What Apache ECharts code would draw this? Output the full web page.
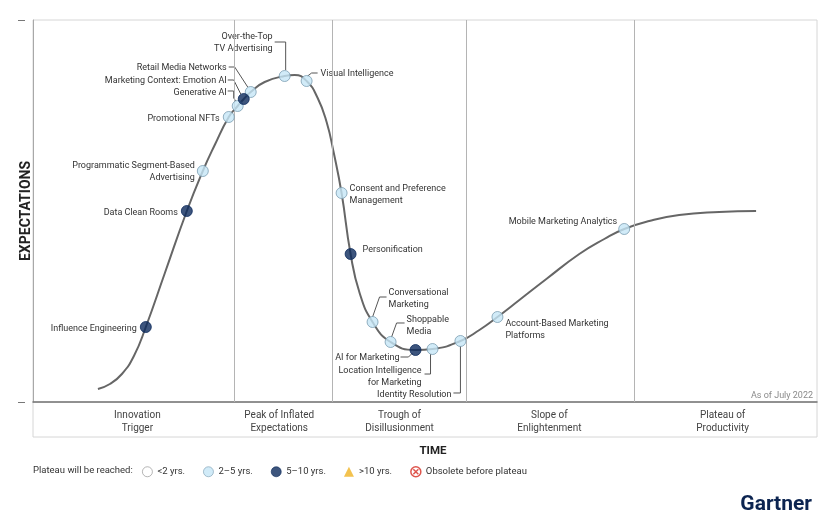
<!DOCTYPE html>
<html><head><meta charset="utf-8">
<script src="https://cdn.jsdelivr.net/npm/echarts@6/dist/echarts.min.js"></script>
<style>html,body{margin:0;padding:0;background:#fff}#c{width:831px;height:521px}</style>
</head><body><div id="c"></div>
<script>
// Hype-cycle curve (time 0-100, expectations 0-100)
const curveX = [8.28, 9.81, 11.34, 12.87, 14.39, 16.82, 19.62, 21.66, 23.18, 24.97, 26.11, 26.88, 27.77, 29.55, 32.10, 33.38, 34.90, 36.31, 37.45, 38.34, 39.36, 40.51, 41.66, 43.31, 45.61, 48.79, 50.96, 54.52, 56.94, 59.24, 62.04, 65.48, 69.68, 72.87, 75.41, 78.60, 82.42, 87.52, 92.23];
const curveY = [3.40, 4.71, 7.33, 12.04, 19.63, 33.77, 50.0, 60.47, 67.28, 74.61, 77.49, 79.32, 81.15, 83.77, 85.34, 85.60, 84.03, 79.58, 73.30, 65.45, 54.71, 38.74, 28.53, 20.94, 15.71, 13.61, 13.87, 15.97, 18.85, 22.25, 26.70, 32.20, 38.74, 42.67, 45.29, 47.38, 48.95, 49.74, 50.0];

// Technologies on the curve
const techNames = ['Influence Engineering', 'Data Clean Rooms', 'Programmatic Segment-Based\nAdvertising', 'Promotional NFTs', 'Generative AI', 'Marketing Context: Emotion AI', 'Retail Media Networks', 'Over-the-Top\nTV Advertising', 'Visual Intelligence', 'Consent and Preference\nManagement', 'Personification', 'Conversational\nMarketing', 'Shoppable\nMedia', 'AI for Marketing', 'Location Intelligence\nfor Marketing', 'Identity Resolution', 'Account-Based Marketing\nPlatforms', 'Mobile Marketing Analytics'];
const techX = [14.39, 19.62, 21.66, 24.97, 26.11, 26.88, 27.77, 32.10, 34.90, 39.36, 40.51, 43.31, 45.61, 48.79, 50.96, 54.52, 59.24, 75.41];
const techY = [19.63, 50.0, 60.47, 74.61, 77.49, 79.32, 81.15, 85.34, 84.03, 54.71, 38.74, 20.94, 15.71, 13.61, 13.87, 15.97, 22.25, 45.29];
// 0: <2 yrs, 1: 2-5 yrs, 2: 5-10 yrs, 3: >10 yrs, 4: obsolete
const techClass = [2, 2, 1, 1, 1, 2, 1, 1, 1, 1, 2, 1, 1, 2, 1, 1, 1, 1];
const classNames = ['<2 yrs.', '2–5 yrs.', '5–10 yrs.', '>10 yrs.', 'Obsolete before plateau'];

// Phases
const phaseNames = ['Innovation\nTrigger', 'Peak of Inflated\nExpectations', 'Trough of\nDisillusionment', 'Slope of\nEnlightenment', 'Plateau of\nProductivity'];
const phaseBounds = [0, 25.61, 38.22, 55.29, 76.69, 100];

// ---- layout / style (pixels relative to each point) ----
const labelLayout = [
  {dx: -9, dy: 0, align: 'right'},
  {dx: -9, dy: 0, align: 'right'},
  {dx: -8, dy: -1, align: 'right'},
  {dx: -9, dy: 0, align: 'right'},
  {dx: -11, dy: -15, align: 'right', leader: [[-10, -15], [-4, -15], [-4, -8], [-2, -5]]},
  {dx: -17, dy: -20, align: 'right', leader: [[-16, -19], [-10, -19], [-3, -5]]},
  {dx: -24, dy: -26, align: 'right', leader: [[-22, -25], [-16, -25], [-3, -5]]},
  {dx: -12, dy: -35, align: 'right', leader: [[-10, -34], [1, -34], [1, -6]]},
  {dx: 14, dy: -9, align: 'left', leader: [[1, -5], [5, -8], [11, -8]]},
  {dx: 8, dy: 0, align: 'left'},
  {dx: 12, dy: -6, align: 'left'},
  {dx: 16, dy: -25, align: 'left', leader: [[0, -5], [7, -25], [14, -25]]},
  {dx: 16, dy: -18, align: 'left', leader: [[1, -5], [6, -19], [14, -19]]},
  {dx: -16, dy: 6, align: 'right', leader: [[-15, 7], [-7, 7], [-3, 3]]},
  {dx: -11, dy: 26, align: 'right', leader: [[-2, 5], [-2, 25], [-8, 25]]},
  {dx: -9, dy: 52, align: 'right', leader: [[0, 5], [0, 52], [-7, 52]]},
  {dx: 8, dy: 11, align: 'left'},
  {dx: -7, dy: -9, align: 'right'}
];
const textShiftY = 1.5;
const phaseLabelShift = [4, -4, 0, -1, -3];
const obsoletePath = 'path://M10,0A10,10,0,1,1,10,20A10,10,0,1,1,10,0ZM5,5L15,15M15,5L5,15';
const classStyles = [
  {symbol: 'circle', itemStyle: {color: '#ffffff', borderColor: '#8c8c8c', borderWidth: 1}},
  {symbol: 'circle', itemStyle: {color: '#c6e6f6', borderColor: '#7c9db2', borderWidth: 1}},
  {symbol: 'circle', itemStyle: {color: '#0c2b5c', borderColor: '#0c2b5c', borderWidth: 1}},
  {symbol: 'triangle', itemStyle: {color: '#f0b323', borderColor: '#f0b323', borderWidth: 0}},
  {symbol: obsoletePath, itemStyle: {color: '#ffffff', borderColor: '#d62a20', borderWidth: 1.5}}
];

const chart = echarts.init(document.getElementById('c'), null, {renderer: 'canvas'});

const scatterSeries = classNames.map((cn, k) => ({
  type: 'scatter',
  name: cn,
  xAxisIndex: 0, yAxisIndex: 0,
  symbol: classStyles[k].symbol,
  symbolSize: 11,
  itemStyle: classStyles[k].itemStyle,
  z: 5,
  silent: true,
  data: techNames.map((n, i) => techClass[i] === k ? [techX[i], techY[i]] : null).filter(d => d)
}));

const option = {
  animation: false,
  textStyle: {fontFamily: 'Roboto'},
  title: [
    {text: 'Plateau will be reached:', left: 33, top: 466, padding: 0,
     textStyle: {fontSize: 9.5, fontWeight: 'normal', color: '#333'}},
    {text: 'As of July 2022', right: 18, top: 391.5, padding: 0,
     textStyle: {fontSize: 9, fontWeight: 'normal', color: '#8a8a8a'}},
    {text: 'Gartner', right: 19, top: 494, padding: 0,
     textStyle: {fontSize: 21, fontWeight: 'bold', color: '#0c2450'}}
  ],
  legend: {
    left: 142, top: 466, padding: 0,
    itemWidth: 10, itemHeight: 10, itemGap: 18,
    selectedMode: false,
    textStyle: {fontSize: 9.5, color: '#333'},
    data: classNames.map((n, k) => ({
      name: n,
      icon: k === 4 ? obsoletePath : (k === 3 ? 'triangle' : 'circle'),
      itemStyle: {borderWidth: k === 4 ? 1.5 : (k === 3 ? 0 : 0.8)}
    }))
  },
  grid: [
    {left: 33, right: 14, top: 20, bottom: 119, show: true, borderColor: '#d6d6d6', borderWidth: 1},
    {left: 33, right: 14, top: 402, height: 35, show: true, borderColor: '#d6d6d6', borderWidth: 1}
  ],
  xAxis: [
    {gridIndex: 0, type: 'value', min: 0, max: 100,
     name: 'TIME', nameLocation: 'middle', nameGap: 43,
     nameTextStyle: {fontSize: 11.5, fontWeight: 'bold', color: '#222', padding: [0, 0, 0, 16]},
     axisLine: {show: true, lineStyle: {color: '#777', width: 1.5}},
     axisTick: {show: false}, axisLabel: {show: false}, splitLine: {show: false}},
    {gridIndex: 1, type: 'value', min: 0, max: 100, show: false}
  ],
  yAxis: [
    {gridIndex: 0, type: 'value', min: 0, max: 100,
     name: 'EXPECTATIONS', nameLocation: 'middle', nameGap: 0, nameRotate: 90,
     nameTextStyle: {fontSize: 14, fontWeight: 'bold', color: '#222', padding: [0, 0, 0, 0]},
     axisLine: {show: true, lineStyle: {color: '#a8a8a8', width: 1}},
     axisTick: {show: false}, axisLabel: {show: false}, splitLine: {show: false}},
    {gridIndex: 1, type: 'value', min: 0, max: 1, show: false},
    {gridIndex: 0, type: 'value', min: 0, max: 100, interval: 100, offset: 8, position: 'left',
     axisLine: {show: false}, axisTick: {show: true, length: 7, lineStyle: {color: '#777'}},
     axisLabel: {show: false}, splitLine: {show: false}}
  ],
  series: [
    {
      type: 'line', name: 'curve', xAxisIndex: 0, yAxisIndex: 0,
      data: curveX.map((x, i) => [x, curveY[i]]),
      smooth: 0.5, showSymbol: false, silent: true,
      lineStyle: {color: '#666', width: 2}, z: 3,
      markLine: {
        silent: true, symbol: 'none', label: {show: false},
        lineStyle: {color: '#b4b4b4', width: 1, type: 'solid'},
        data: phaseBounds.slice(1, -1).map(v => ({xAxis: v}))
      }
    },
    {
      type: 'custom', name: 'labels', xAxisIndex: 0, yAxisIndex: 0, silent: true, z: 4,
      data: techNames.map((n, i) => [techX[i], techY[i], i]),
      renderItem: function (params, api) {
        const p = api.coord([api.value(0), api.value(1)]);
        const i = api.value(2);
        const L = labelLayout[i];
        const children = [];
        if (L.leader) {
          children.push({type: 'polyline', shape: {points: L.leader.map(o => [p[0] + o[0], p[1] + o[1]])},
            style: {stroke: '#555', lineWidth: 1, fill: null}});
        }
        children.push({type: 'text', x: p[0] + L.dx, y: p[1] + L.dy + textShiftY,
          style: {text: techNames[i], align: L.align, verticalAlign: 'middle',
            font: '9px Roboto', fill: '#333', lineHeight: 12}});
        return {type: 'group', children: children};
      }
    },
    {
      type: 'custom', name: 'phases', xAxisIndex: 1, yAxisIndex: 1, silent: true,
      data: phaseNames.map((n, i) => [phaseBounds[i], phaseBounds[i + 1], i]),
      renderItem: function (params, api) {
        const i = api.value(2);
        const a = api.coord([api.value(0), 0.5]);
        const b = api.coord([api.value(1), 0.5]);
        return {type: 'text', x: (a[0] + b[0]) / 2 + phaseLabelShift[i], y: a[1] + 2,
          style: {text: phaseNames[i], align: 'center', verticalAlign: 'middle',
            font: '10px Roboto', fill: '#444', lineHeight: 13}};
      }
    }
  ].concat(scatterSeries)
};
chart.setOption(option);
</script></body></html>
